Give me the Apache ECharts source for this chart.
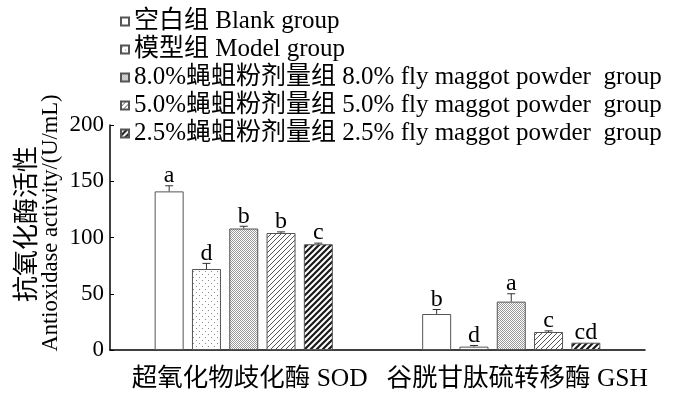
<!DOCTYPE html>
<html>
<head>
<meta charset="utf-8">
<script src="https://cdn.jsdelivr.net/npm/echarts@6/dist/echarts.min.js"></script>
<style>
  html, body { margin: 0; padding: 0; background: #fff; }
  #chart { width: 700px; height: 399px; }
</style>
</head>
<body>
<div id="chart"></div>
<script>
const categories = ["超氧化物歧化酶 SOD", "谷胱甘肽硫转移酶 GSH"];
const groupNames = [
  "空白组 Blank group",
  "模型组 Model group",
  "8.0%蝇蛆粉剂量组 8.0% fly maggot powder  group",
  "5.0%蝇蛆粉剂量组 5.0% fly maggot powder  group",
  "2.5%蝇蛆粉剂量组 2.5% fly maggot powder  group",
];
const blankVals = [141, 32];
const modelVals = [72, 3];
const dose8Vals = [108, 43];
const dose5Vals = [104, 16];
const dose25Vals = [94, 6.5];
const blankErr = [5, 4];
const modelErr = [5, 1];
const dose8Err = [2, 7];
const dose5Err = [1, 1];
const dose25Err = [1, 0];
const blankSig = ["a", "b"];
const modelSig = ["d", "d"];
const dose8Sig = ["b", "a"];
const dose5Sig = ["b", "c"];
const dose25Sig = ["c", "cd"];
const yTicks = [0, 50, 100, 150, 200];

const FONT = "'Liberation Serif', 'Noto Sans CJK SC', serif";
const BAR_W = 29;
const BAR_GAP = 0.286;

// small tiles for the hatch fills
function tile(size, draw) {
  const c = document.createElement("canvas");
  c.width = size;
  c.height = size;
  const ctx = c.getContext("2d");
  ctx.fillStyle = "#fff";
  ctx.fillRect(0, 0, size, size);
  draw(ctx, size);
  return { image: c, repeat: "repeat" };
}
function slash(ctx, s, w, col) {
  ctx.strokeStyle = col;
  ctx.lineWidth = w;
  ctx.beginPath();
  ctx.moveTo(0, s); ctx.lineTo(s, 0);
  ctx.moveTo(-s / 2, s / 2); ctx.lineTo(s / 2, -s / 2);
  ctx.moveTo(s / 2, s * 1.5); ctx.lineTo(s * 1.5, s / 2);
  ctx.stroke();
}

const fills = [
  "#fff",
  tile(6, (ctx) => {
    ctx.fillStyle = "#8a8a8a";
    ctx.fillRect(1, 1, 1, 1);
    ctx.fillRect(4, 4, 1, 1);
  }),
  tile(2, (ctx) => {
    ctx.fillStyle = "#999";
    ctx.fillRect(0, 0, 1, 1);
    ctx.fillRect(1, 1, 1, 1);
  }),
  tile(5, (ctx, s) => slash(ctx, s, 1, "#555")),
  tile(6, (ctx, s) => slash(ctx, s, 2.2, "#1a1a1a")),
];

const vals = [blankVals, modelVals, dose8Vals, dose5Vals, dose25Vals];
const errs = [blankErr, modelErr, dose8Err, dose5Err, dose25Err];
const sigs = [blankSig, modelSig, dose8Sig, dose5Sig, dose25Sig];

const barSeries = groupNames.map((name, i) => ({
  name: name,
  type: "bar",
  data: vals[i],
  barWidth: BAR_W,
  barGap: BAR_GAP * 100 + "%",
  itemStyle: { color: fills[i], borderColor: "#555", borderWidth: 1 },
  z: 2,
}));

// error bar + letter above each bar
const errSeries = groupNames.map((name, i) => ({
  type: "custom",
  data: vals[i].map((v, k) => [k, v, errs[i][k], sigs[i][k]]),
  z: 3,
  renderItem: function (params, api) {
    const step = BAR_W * (1 + BAR_GAP);
    const off = (i - 2) * step;
    const base = api.coord([api.value(0), api.value(1)]);
    const top = api.coord([api.value(0), api.value(1) + api.value(2)]);
    const x = base[0] + off;
    const kids = [];
    if (api.value(2) > 0) {
      kids.push({
        type: "line",
        shape: { x1: x, y1: base[1], x2: x, y2: top[1] },
        style: { stroke: "#333", lineWidth: 1 },
      });
      kids.push({
        type: "line",
        shape: { x1: x - 4, y1: top[1], x2: x + 4, y2: top[1] },
        style: { stroke: "#333", lineWidth: 1 },
      });
    }
    kids.push({
      type: "text",
      style: {
        text: sigs[i][params.dataIndex],
        x: x,
        y: top[1] + 2,
        align: "center",
        verticalAlign: "bottom",
        font: "24px " + FONT,
        fill: "#000",
      },
    });
    return { type: "group", children: kids };
  },
}));

const chart = echarts.init(document.getElementById("chart"));
chart.setOption({
  animation: false,
  backgroundColor: "#fff",
  textStyle: { fontFamily: FONT, color: "#000" },
  legend: {
    data: groupNames,
    orient: "vertical",
    left: 115,
    top: 4,
    itemWidth: 8,
    itemHeight: 8,
    itemGap: 3,
    icon: "rect",
    textStyle: { fontSize: 25, lineHeight: 23, color: "#000", fontFamily: FONT },
  },
  grid: { left: 110, right: 55, top: 125, bottom: 49 },
  xAxis: {
    type: "category",
    data: categories,
    axisLine: { lineStyle: { color: "#000", width: 1.5 } },
    axisTick: { show: false },
    axisLabel: {
      interval: 0,
      fontSize: 25.5,
      color: "#000",
      margin: 17,
      padding: [0, 0, 0, 12],
      fontFamily: FONT,
    },
  },
  yAxis: {
    type: "value",
    min: yTicks[0],
    max: yTicks[yTicks.length - 1],
    interval: 50,
    splitLine: { show: false },
    axisLine: { show: true, lineStyle: { color: "#000", width: 1.5 } },
    axisTick: { show: true, inside: true, length: 4, lineStyle: { color: "#000" } },
    axisLabel: { fontSize: 23, color: "#000", margin: 6, fontFamily: FONT },
  },
  graphic: [
    {
      type: "text",
      x: 28,
      y: 224,
      rotation: Math.PI / 2,
      style: {
        text: "抗氧化酶活性",
        font: "26px " + FONT,
        fill: "#000",
        align: "center",
        verticalAlign: "middle",
      },
    },
    {
      type: "text",
      x: 51,
      y: 223,
      rotation: Math.PI / 2,
      style: {
        text: "Antioxidase activity/(U/mL)",
        font: "22.5px " + FONT,
        fill: "#000",
        align: "center",
        verticalAlign: "middle",
      },
    },
  ],
  series: barSeries.concat(errSeries),
});
</script>
</body>
</html>
